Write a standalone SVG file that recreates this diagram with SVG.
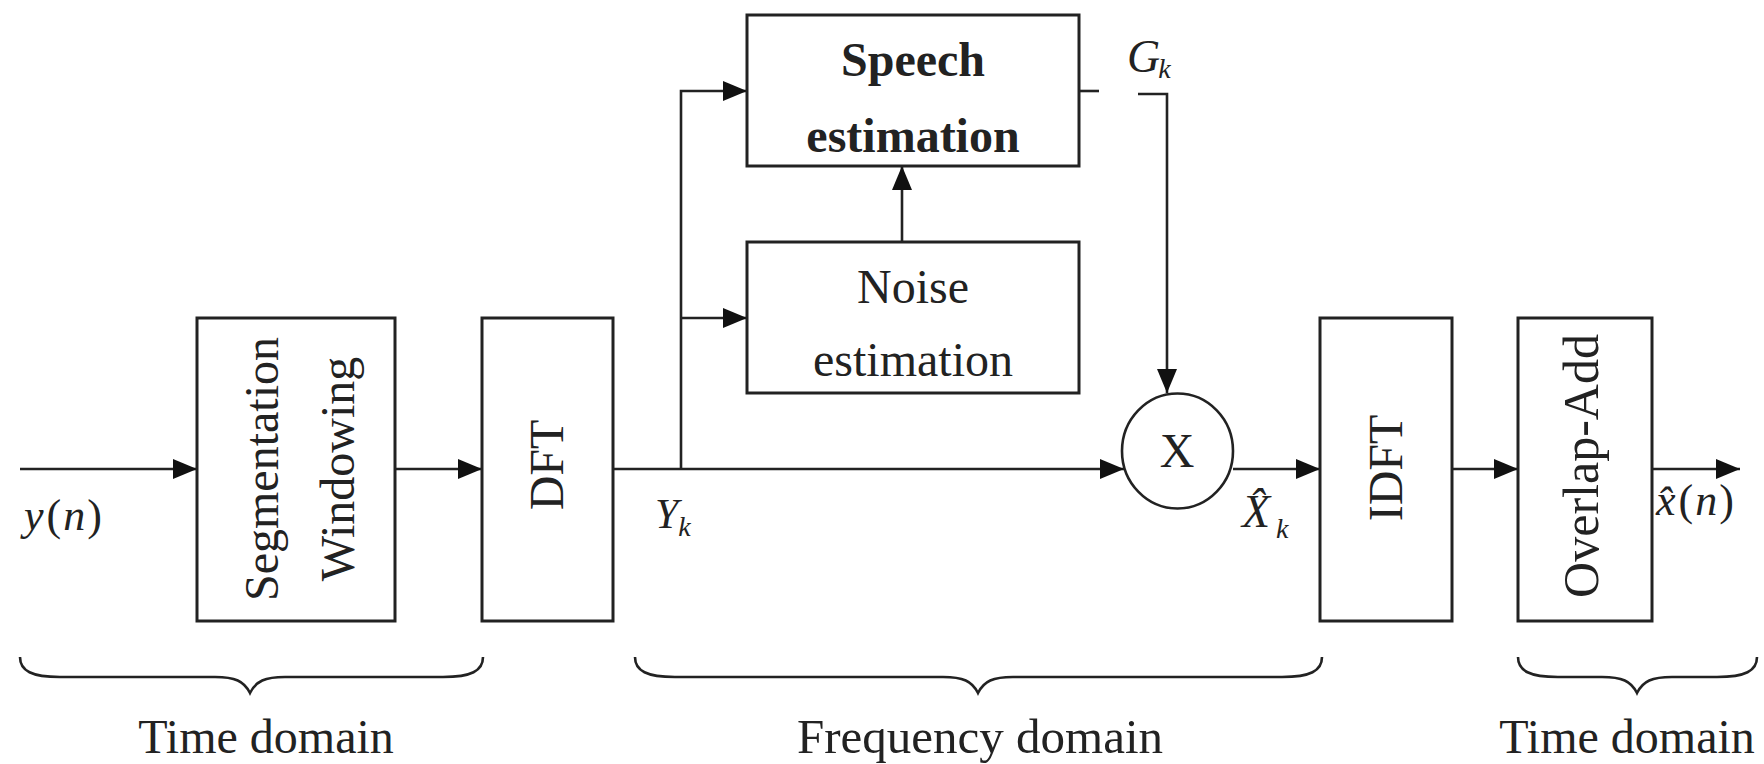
<svg xmlns="http://www.w3.org/2000/svg" width="1764" height="764" viewBox="0 0 1764 764">
<style>
.box{fill:#fff;stroke:#222;stroke-width:3}
.ln{fill:none;stroke:#222;stroke-width:2.6}
.br{fill:none;stroke:#222;stroke-width:2.6}
.t{font-family:"Liberation Serif","Times New Roman",serif;font-size:48px;fill:#222}
.b{font-weight:bold}
.i{font-style:italic}
.m{text-anchor:middle}
</style>
<defs>
<marker id="ah" viewBox="0 0 24 20" refX="24" refY="10" markerWidth="24" markerHeight="20" markerUnits="userSpaceOnUse" orient="auto">
<path d="M0,0 L24,10 L0,20 z" fill="#111"/>
</marker>
</defs>
<rect width="1764" height="764" fill="#fff"/>

<g id="connectors">
<path class="ln" d="M20 469 H197" marker-end="url(#ah)"/>
<path class="ln" d="M395 469 H482" marker-end="url(#ah)"/>
<path class="ln" d="M613 469 H1124" marker-end="url(#ah)"/>
<path class="ln" d="M681 469 V91 H747" marker-end="url(#ah)"/>
<path class="ln" d="M681 318 H747" marker-end="url(#ah)"/>
<path class="ln" d="M902 242 V166" marker-end="url(#ah)"/>
<path class="ln" d="M1079 91 H1099"/>
<path class="ln" d="M1138 94 H1167 V393" marker-end="url(#ah)"/>
<path class="ln" d="M1233 469 H1320" marker-end="url(#ah)"/>
<path class="ln" d="M1452 469 H1518" marker-end="url(#ah)"/>
<path class="ln" d="M1652 469 H1740" marker-end="url(#ah)"/>
</g>

<g id="seg">
<rect class="box" x="197" y="318" width="198" height="303"/>
<text class="t m" transform="translate(278 469) rotate(-90)">Segmentation</text>
<text class="t m" transform="translate(354 469) rotate(-90)">Windowing</text>
</g>

<g id="dft">
<rect class="box" x="482" y="318" width="131" height="303"/>
<text class="t m" transform="translate(563 465) rotate(-90)">DFT</text>
</g>

<g id="speech">
<rect class="box" x="747" y="15" width="332" height="151"/>
<text class="t b m" x="913" y="76">Speech</text>
<text class="t b m" x="913" y="152">estimation</text>
</g>

<g id="noise">
<rect class="box" x="747" y="242" width="332" height="151"/>
<text class="t m" x="913" y="303">Noise</text>
<text class="t m" x="913" y="376">estimation</text>
</g>

<g id="mult">
<ellipse cx="1177.5" cy="451" rx="55.5" ry="57.5" fill="#fff" stroke="#222" stroke-width="2.6"/>
<text class="t m" x="1177" y="467">X</text>
</g>

<g id="idft">
<rect class="box" x="1320" y="318" width="132" height="303"/>
<text class="t m" transform="translate(1402 468) rotate(-90)">IDFT</text>
</g>

<g id="ola">
<rect class="box" x="1518" y="318" width="134" height="303"/>
<text class="t m" transform="translate(1598 466) rotate(-90)" style="font-size:50px">Overlap-Add</text>
</g>

<g id="labels">
<text class="t" x="24" y="530" style="font-size:44px"><tspan class="i">y</tspan><tspan dx="3">(</tspan><tspan class="i" dx="2">n</tspan><tspan dx="2">)</tspan></text>
<text class="t i" x="655" y="528" style="font-size:42px">Y<tspan dy="8" style="font-size:28px">k</tspan></text>
<text class="t i" x="1127" y="72" style="font-size:46px">G<tspan dx="-2" dy="6" style="font-size:28px">k</tspan></text>
<text class="t i" x="1242" y="527" style="font-size:46px">X̂<tspan dx="6" dy="11" style="font-size:28px">k</tspan></text>
<text class="t" x="1656" y="515" style="font-size:44px"><tspan class="i">x̂</tspan><tspan dx="3">(</tspan><tspan class="i" dx="2">n</tspan><tspan dx="2">)</tspan></text>
</g>

<g id="braces">
<path class="br" d="M20 657 C20 671 32 677 60 677 L215 677 C235 677 244 681 250 693 C256 681 265 677 285 677 L443 677 C471 677 483 671 483 657"/>
<path class="br" d="M635 657 C635 671 647 677 675 677 L943 677 C963 677 972 681 978 693 C984 681 993 677 1013 677 L1282 677 C1310 677 1322 671 1322 657"/>
<path class="br" d="M1518 657 C1518 671 1530 677 1558 677 L1602 677 C1622 677 1631 681 1637 693 C1643 681 1652 677 1672 677 L1717 677 C1745 677 1757 671 1757 657"/>
<text class="t m" x="266" y="753">Time domain</text>
<text class="t m" x="980" y="753" style="font-size:49px">Frequency domain</text>
<text class="t m" x="1627" y="753">Time domain</text>
</g>
</svg>
